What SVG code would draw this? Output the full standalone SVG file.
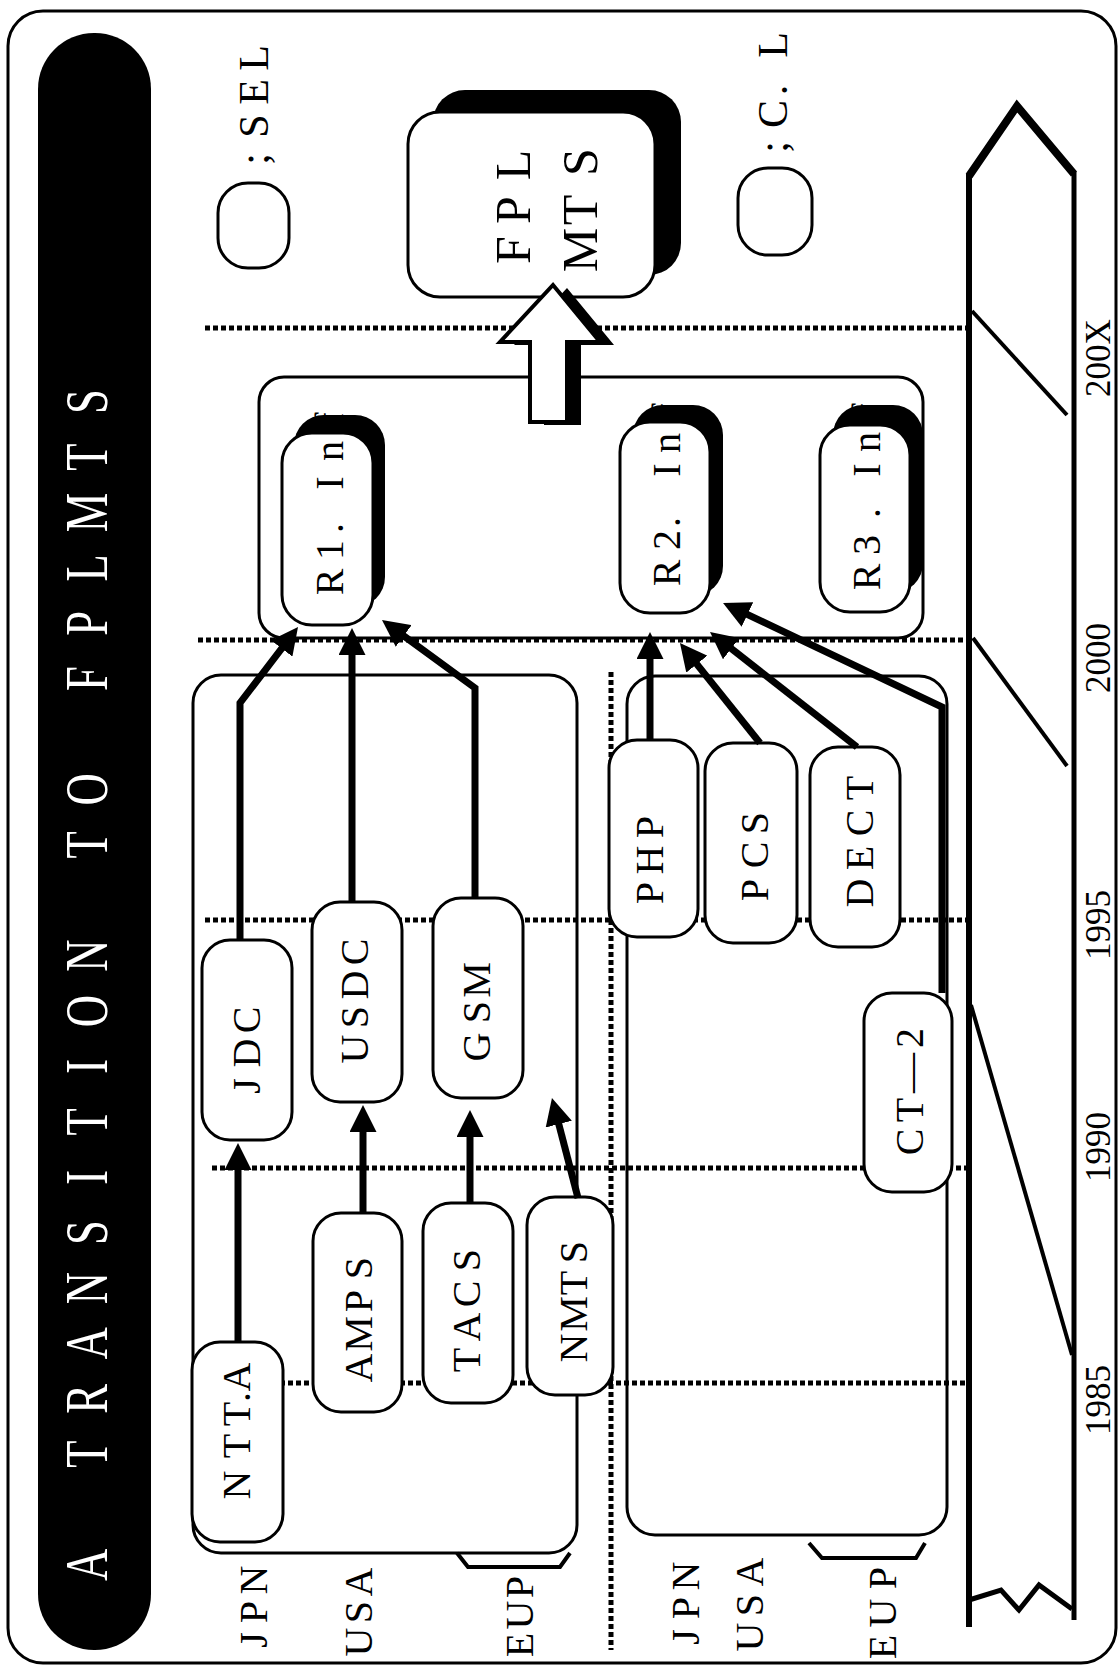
<svg xmlns="http://www.w3.org/2000/svg" width="1118" height="1668" viewBox="0 0 1118 1668">
<defs>
<style>
.box{fill:#fff;stroke:#000;stroke-width:3}
.shadow{fill:#000}
.cont{fill:none;stroke:#000;stroke-width:3}
.dot{fill:none;stroke:#000;stroke-width:5;stroke-dasharray:5 3}
.conn{fill:none;stroke:#000;stroke-width:7;stroke-linejoin:miter;marker-end:url(#ah)}
.lbl{font-family:"Liberation Serif","Times New Roman",serif;font-size:40px;text-anchor:middle;fill:#000}
.big{font-size:50px}
.leg{font-size:42px}
.year{font-family:"Liberation Serif","Times New Roman",serif;font-size:35px;text-anchor:middle;fill:#000}
.title{font-family:"Liberation Serif","Times New Roman",serif;font-size:62px;text-anchor:middle;fill:#fff}
.bar{fill:none;stroke:#000;stroke-linejoin:miter}
</style>
<marker id="ah" markerUnits="userSpaceOnUse" markerWidth="27" markerHeight="27" refX="9" refY="13.5" orient="auto" viewBox="0 0 27 27">
<path d="M0,0 L27,13.5 L0,27 z" fill="#000"/>
</marker>
</defs>
<rect width="1118" height="1668" fill="#fff"/>
<rect x="8" y="11" width="1108" height="1652" rx="35" fill="none" stroke="#000" stroke-width="3"/>

<g id="title">
<rect x="38" y="33" width="113" height="1617" rx="56" fill="#000"/>
<text class="title" transform="translate(107,1565) rotate(-90) scale(0.72,1)" x="0 76.9 153.9 230.8 307.8 384.7 461.7 538.6 615.6 692.5 769.4 846.4 923.3 1000.3 1077.2 1154.2 1231.1 1308 1385 1461.9 1538.9 1615.8" y="0">A TRANSITION TO FPLMTS</text>
</g>

<g id="gridlines">
<path class="dot" d="M205,328 H967"/>
<path class="dot" d="M198,640 H967"/>
<path class="dot" d="M205,920 H967"/>
<path class="dot" d="M212,1168 H967"/>
<path class="dot" d="M200,1383 H967"/>
<path class="dot" d="M611,672 V1650"/>
</g>

<g id="timeline">
<path class="bar" stroke-width="6" d="M969,174 V1627"/>
<path class="bar" stroke-width="5" d="M1074,172 V1620"/>
<path class="bar" stroke-width="8" d="M969,176 L1017,106 L1074,174"/>
<path class="bar" stroke-width="5" d="M969,1600 L1001,1590 L1019,1610 L1039,1585 L1072,1609"/>
<path class="bar" stroke-width="4" d="M972,311 L1067,415"/>
<path class="bar" stroke-width="4" d="M973,638 L1067,766"/>
<path class="bar" stroke-width="4" d="M971,1005 L1072,1355"/>
<text class="year" transform="translate(1110,358) rotate(-90)">200X</text>
<text class="year" transform="translate(1110,658) rotate(-90)">2000</text>
<text class="year" transform="translate(1110,925) rotate(-90)">1995</text>
<text class="year" transform="translate(1110,1147) rotate(-90)">1990</text>
<text class="year" transform="translate(1110,1400) rotate(-90)">1985</text>
</g>

<g id="legend-sel">
<rect class="box" x="218" y="183" width="71" height="85" rx="30"/>
<text class="lbl leg" transform="translate(268,159) rotate(-90)" x="0 33 67 101" y="0">;SEL</text>
</g>
<g id="legend-cl">
<rect class="box" x="738" y="168" width="74" height="87" rx="30"/>
<text class="lbl leg" transform="translate(787,147) rotate(-90)" x="0 33 57 80 102" y="0">;C. L</text>
</g>

<g id="group-r">
<rect class="cont" x="259" y="377" width="664" height="261" rx="25"/>
</g>
<g id="group-cellular">
<rect class="cont" x="193" y="675" width="384" height="878" rx="28"/>
<path fill="none" stroke="#000" stroke-width="4" d="M457,1553 L468,1567 L560,1567 L570,1553"/>
<text class="lbl" transform="translate(267,1640) rotate(-90)" x="0 28 60" y="0">JPN</text>
<text class="lbl" transform="translate(372,1642) rotate(-90)" x="0 30 60" y="0">USA</text>
<text class="lbl" transform="translate(533,1645) rotate(-90)" x="0 30 58" y="0">EUP</text>
</g>
<g id="group-cordless">
<rect class="cont" x="627" y="676" width="320" height="859" rx="28"/>
<path fill="none" stroke="#000" stroke-width="4" d="M809,1543 L822,1558 L916,1558 L925,1543"/>
<text class="lbl" transform="translate(699,1637) rotate(-90)" x="0 29 61" y="0">JPN</text>
<text class="lbl" transform="translate(763,1637) rotate(-90)" x="0 32 65" y="0">USA</text>
<text class="lbl" transform="translate(896,1647) rotate(-90)" x="0 34 69" y="0">EUP</text>
</g>

<g id="fplmts">
<rect class="shadow" x="433" y="90" width="248" height="185" rx="32"/>
<rect class="box" x="408" y="112" width="247" height="185" rx="32"/>
<text class="lbl big" transform="translate(530,250) rotate(-90)" x="0 40 85" y="0">FPL</text>
<text class="lbl big" transform="translate(597,250) rotate(-90)" x="0 40 88" y="0">MTS</text>
</g>

<g id="r1">
<rect class="shadow" x="294" y="415" width="91" height="192" rx="30"/>
<rect class="box" x="282" y="433" width="91" height="192" rx="30"/>
<text class="lbl" transform="translate(343,582) rotate(-90)" x="0 32 54 77 99 131 163" y="0">R1. Inf</text>
</g>
<g id="r2">
<rect class="shadow" x="633" y="405" width="90" height="191" rx="30"/>
<rect class="box" x="620" y="422" width="90" height="191" rx="30"/>
<text class="lbl" transform="translate(680,573) rotate(-90)" x="0 33 51 77 103 130 163" y="0">R2. Inf</text>
</g>
<g id="r3">
<rect class="shadow" x="833" y="405" width="90" height="188" rx="30"/>
<rect class="box" x="820" y="425" width="90" height="187" rx="30"/>
<text class="lbl" transform="translate(880,577) rotate(-90)" x="0 32 64 85 107 135 167" y="0">R3. Inf</text>
</g>

<g id="ntta">
<rect class="box" x="192" y="1342" width="91" height="200" rx="28"/>
<text class="lbl" transform="translate(250,1485) rotate(-90)" x="0 39 71 88 108" y="0">NTT.A</text>
</g>
<g id="amps">
<rect class="box" x="313" y="1213" width="89" height="199" rx="28"/>
<text class="lbl" transform="translate(372,1368) rotate(-90)" x="0 34 67 100" y="0">AMPS</text>
</g>
<g id="tacs">
<rect class="box" x="423" y="1203" width="90" height="200" rx="28"/>
<text class="lbl" transform="translate(480,1360) rotate(-90)" x="0 33 66 100" y="0">TACS</text>
</g>
<g id="nmts">
<rect class="box" x="527" y="1197" width="86" height="198" rx="28"/>
<text class="lbl" transform="translate(587,1348) rotate(-90)" x="0 34 65 96" y="0">NMTS</text>
</g>
<g id="jdc">
<rect class="box" x="202" y="940" width="90" height="200" rx="28"/>
<text class="lbl" transform="translate(260,1086) rotate(-90)" x="0 33 66" y="0">JDC</text>
</g>
<g id="usdc">
<rect class="box" x="312" y="902" width="90" height="200" rx="28"/>
<text class="lbl" transform="translate(368,1049) rotate(-90)" x="0 32 64 97" y="0">USDC</text>
</g>
<g id="gsm">
<rect class="box" x="433" y="898" width="90" height="200" rx="28"/>
<text class="lbl" transform="translate(490,1047) rotate(-90)" x="0 35 67" y="0">GSM</text>
</g>
<g id="php">
<rect class="box" x="609" y="740" width="89" height="197" rx="28"/>
<text class="lbl" transform="translate(663,893) rotate(-90)" x="0 33 66" y="0">PHP</text>
</g>
<g id="pcs">
<rect class="box" x="705" y="743" width="92" height="200" rx="28"/>
<text class="lbl" transform="translate(768,890) rotate(-90)" x="0 35 67" y="0">PCS</text>
</g>
<g id="dect">
<rect class="box" x="810" y="747" width="90" height="200" rx="28"/>
<text class="lbl" transform="translate(873,893) rotate(-90)" x="0 35 70 105" y="0">DECT</text>
</g>
<g id="ct2">
<rect class="box" x="864" y="993" width="88" height="199" rx="28"/>
<text class="lbl" transform="translate(923,1142) rotate(-90)" x="0 32 69 104" y="0">CT—2</text>
</g>

<g id="connectors">
<path class="conn" d="M238,1342 V1161"/>
<path class="conn" d="M363,1213 V1123"/>
<path class="conn" d="M470,1203 V1128"/>
<path class="conn" d="M578,1198 L556.5,1115.4"/>
<path class="conn" d="M240,940 V703 L287.1,641.3"/>
<path class="conn" d="M352,902 V646"/>
<path class="conn" d="M475,898 V688 L396.5,630.6"/>
<path class="conn" d="M650,740 V650"/>
<path class="conn" d="M760,743 L691.2,657.1"/>
<path class="conn" d="M857,747 L724.2,643.1"/>
<path class="conn" d="M942,993 V707 L739.3,610.7"/>
<g id="big-arrow">
<path d="M553,285 L600,342 L567,342 L567,422 L530,422 L530,342 L500,342 Z" fill="#000" transform="translate(14,3)"/>
<path d="M553,285 L600,342 L567,342 L567,422 L530,422 L530,342 L500,342 Z" fill="#fff" stroke="#000" stroke-width="4" stroke-linejoin="miter"/>
</g>
</g>
</svg>
